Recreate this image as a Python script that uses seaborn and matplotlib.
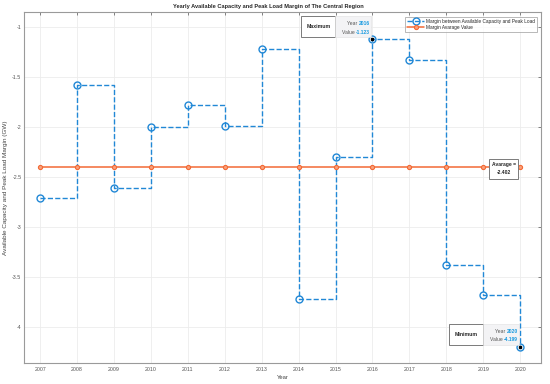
import numpy as np
import pandas as pd
import matplotlib
matplotlib.use("Agg")
import matplotlib.pyplot as plt
from matplotlib.patches import Rectangle
import seaborn as sns

# yearly data
years = [2007, 2008, 2009, 2010, 2011, 2012, 2013, 2014, 2015, 2016, 2017, 2018, 2019, 2020]
margin = [-2.71, -1.58, -2.61, -2.00, -1.78, -1.99, -1.22, -3.72, -2.30, -1.123, -1.33, -3.38, -3.68, -4.199]
avg_value = -2.402
yticks = [-1, -1.5, -2, -2.5, -3, -3.5, -4]

BLUE = "#2188d6"
ORANGE = "#f36a35"
TIP_BLUE = "#1a9be0"

sns.set_style("whitegrid")
plt.rcParams['font.family'] = ['Liberation Sans', 'DejaVu Sans']

df = pd.DataFrame({"Year": years, "Margin": margin, "Avg": [avg_value] * len(years)})

fig = plt.figure(figsize=(5.5, 3.84), dpi=100)
ax = fig.add_axes([0.044, 0.055, 0.940, 0.914])

sns.lineplot(data=df, x="Year", y="Margin", ax=ax, color=BLUE, linestyle="--",
             linewidth=1.0, drawstyle="steps-post", marker="o", markersize=5,
             markerfacecolor="none", markeredgecolor=BLUE, markeredgewidth=1.0,
             label="Margin between Available Capacity and Peak Load")
sns.lineplot(data=df, x="Year", y="Avg", ax=ax, color=ORANGE, linewidth=1.1,
             marker="o", markersize=3, markerfacecolor="#f8a07c",
             markeredgecolor=ORANGE, markeredgewidth=0.8, label="Margin Avarage Value")

imax = int(np.argmax(margin))
imin = int(np.argmin(margin))
ax.plot([years[imax], years[imin]], [margin[imax], margin[imin]], "s", color="black",
        markersize=1.6, zorder=6)

ax.set_xlim(2006.57, 2020.57)
ax.set_ylim(-4.36, -0.85)
ax.set_xticks(years)
ax.set_yticks(yticks)
ax.set_yticklabels([f"{v:g}" for v in yticks])
ax.tick_params(labelsize=3.8, colors="#555555", direction="in", length=2.5,
               top=True, right=True, width=0.5, pad=2)
ax.tick_params(axis="x", pad=3)
ax.grid(color="#ececec", linewidth=0.6)
for s in ax.spines.values():
    s.set_color("#9a9a9a")
    s.set_linewidth(0.8)

ax.set_title("Yearly Available Capacity and Peak Load Margin of The Central Region",
             fontsize=4.1, fontweight="bold", pad=2.5, x=0.472)
ax.set_xlabel("Year", fontsize=4.2, color="#444444", labelpad=2)
ax.set_ylabel("Available Capacity and Peak Load Margin (GW)", fontsize=4.6,
              color="#444444", labelpad=3)

leg = ax.legend(loc="upper right", fontsize=3.4, frameon=True, fancybox=False,
                borderpad=0.35, handlelength=3.6, labelspacing=0.25, handletextpad=0.5,
                borderaxespad=0, bbox_to_anchor=(0.992, 0.985))
leg.get_frame().set_edgecolor("#999999")
leg.get_frame().set_linewidth(0.6)


def off(x, y, dx, dy):
    # shift a data point by a number of pixels, back in data units
    px, py = ax.transData.transform((x, y))
    return ax.transData.inverted().transform((px + dx, py + dy))


def rect(x, y, x0, y0, x1, y1, **kw):
    a = off(x, y, x0, y0)
    b = off(x, y, x1, y1)
    ax.add_patch(Rectangle(a, b[0] - a[0], b[1] - a[1], zorder=4, **kw))


def datatip(x, y, label):
    rect(x, y, -71, 2, -37, 23, facecolor="white", edgecolor="#7a7a7a", linewidth=0.7)
    rect(x, y, -37, 2, -1, 23, facecolor="#f3f3f5", edgecolor="#e0e0e0", linewidth=0.4)
    cx, cy = off(x, y, -54, 12.5)
    ax.text(cx, cy, label, fontsize=3.7, fontweight="bold", ha="center", va="center", zorder=5)
    for dy, name, val in [(15.5, "Year ", f"{x}"), (7, "Value ", f"{y}")]:
        tx, ty = off(x, y, -2.5, dy)
        t = ax.text(tx, ty, val, fontsize=3.6, color=TIP_BLUE, fontweight="bold",
                    ha="right", va="center", zorder=5)
        ax.annotate(name, xy=(0, 0.5), xycoords=t, fontsize=3.6, color="#555555",
                    ha="right", va="center", zorder=5)


datatip(years[imax], margin[imax], "Maximum")
datatip(years[imin], margin[imin], "Minimum")

# average label box
ax_x, ax_y = years[-1], avg_value
rect(ax_x, ax_y, -31, -11.5, -2, 8, facecolor="white", edgecolor="#7a7a7a", linewidth=0.7)
for dy, s in [(2.8, "Avarage ="), (-5.8, f"{avg_value}")]:
    tx, ty = off(ax_x, ax_y, -16.5, dy)
    ax.text(tx, ty, s, fontsize=3.6, fontweight="bold", ha="center", va="center", zorder=5)

fig.savefig("out.png", dpi=100)
